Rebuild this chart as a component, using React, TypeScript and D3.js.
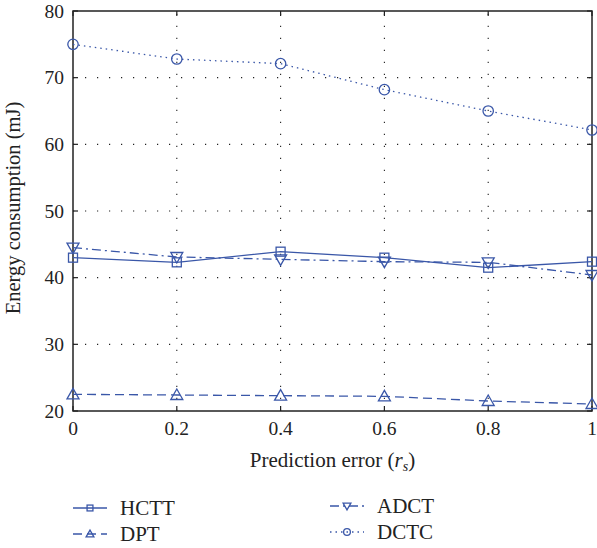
import React, { useEffect, useRef } from "react";
import * as d3 from "d3";

const xValues = [0, 0.2, 0.4, 0.6, 0.8, 1];
const hctt = [43.0, 42.3, 43.9, 43.0, 41.5, 42.4];
const dpt = [22.5, 22.4, 22.3, 22.2, 21.5, 21.05];
const adct = [44.5, 43.1, 42.75, 42.4, 42.3, 40.4];
const dctc = [75.0, 72.8, 72.1, 68.2, 65.0, 62.15];
const yTicks = [20, 30, 40, 50, 60, 70, 80];
const xTicks = [0, 0.2, 0.4, 0.6, 0.8, 1];

const BLUE = "#3a57a8";
const FONT = "'Liberation Serif', 'DejaVu Serif', serif";

const series = [
  { name: "HCTT", values: hctt, dash: null, marker: "square" },
  { name: "DPT", values: dpt, dash: "9,5", marker: "up" },
  { name: "ADCT", values: adct, dash: "9,4,2,4", marker: "down" },
  { name: "DCTC", values: dctc, dash: "1.5,4", marker: "circle" },
];

const drawMarker = (g, kind, cx, cy, s = 1) => {
  if (kind === "square") {
    g.append("rect").attr("x", cx - 4.5 * s).attr("y", cy - 4.5 * s)
      .attr("width", 9 * s).attr("height", 9 * s)
      .attr("fill", "none").attr("stroke", BLUE).attr("stroke-width", 1.3);
  } else if (kind === "circle") {
    g.append("circle").attr("cx", cx).attr("cy", cy).attr("r", 5.2 * s)
      .attr("fill", "none").attr("stroke", BLUE).attr("stroke-width", 1.3);
  } else {
    const h = 6 * s;
    const d = kind === "up"
      ? `M${cx},${cy - h}L${cx + h},${cy + h * 0.75}L${cx - h},${cy + h * 0.75}Z`
      : `M${cx},${cy + h}L${cx + h},${cy - h * 0.75}L${cx - h},${cy - h * 0.75}Z`;
    g.append("path").attr("d", d)
      .attr("fill", "none").attr("stroke", BLUE).attr("stroke-width", 1.3);
  }
};

const App = () => {
  const ref = useRef(null);

  useEffect(() => {
    const svg = d3.select(ref.current);
    svg.selectAll("*").remove();

    const margin = { left: 73, right: 5, top: 11, bottom: 137 };
    const width = 597, height = 548;
    const x = d3.scaleLinear().domain([0, 1]).range([margin.left, width - margin.right]);
    const y = d3.scaleLinear().domain([20, 80]).range([height - margin.bottom, margin.top]);

    const [x0, x1] = x.range();
    const [y0, y1] = y.range();

    // grid, sparse black dots
    const grid = svg.append("g").attr("stroke", "#222").attr("stroke-width", 1.1)
      .attr("stroke-dasharray", "1.2,10.8");
    yTicks.slice(1, -1).forEach(t => {
      grid.append("line").attr("x1", x0).attr("x2", x1).attr("y1", y(t)).attr("y2", y(t));
    });
    xTicks.slice(1, -1).forEach(t => {
      grid.append("line").attr("x1", x(t)).attr("x2", x(t)).attr("y1", y0).attr("y2", y1);
    });

    // ticks (inward, mirrored)
    const ticks = svg.append("g").attr("stroke", "#222").attr("stroke-width", 1.2);
    yTicks.forEach(t => {
      ticks.append("line").attr("x1", x0).attr("x2", x0 + 5).attr("y1", y(t)).attr("y2", y(t));
      ticks.append("line").attr("x1", x1).attr("x2", x1 - 5).attr("y1", y(t)).attr("y2", y(t));
    });
    xTicks.forEach(t => {
      ticks.append("line").attr("x1", x(t)).attr("x2", x(t)).attr("y1", y0).attr("y2", y0 - 5);
      ticks.append("line").attr("x1", x(t)).attr("x2", x(t)).attr("y1", y1).attr("y2", y1 + 5);
    });

    // frame
    svg.append("rect").attr("x", x0).attr("y", y1).attr("width", x1 - x0).attr("height", y0 - y1)
      .attr("fill", "none").attr("stroke", "#222").attr("stroke-width", 1.5);

    // tick labels
    const labels = svg.append("g").attr("font-family", FONT).attr("font-size", 19.5).attr("fill", "#222");
    yTicks.forEach(t => {
      labels.append("text").attr("x", x0 - 9).attr("y", y(t)).attr("dy", "0.35em")
        .attr("text-anchor", "end").text(t);
    });
    xTicks.forEach(t => {
      labels.append("text").attr("x", x(t)).attr("y", 435)
        .attr("text-anchor", "middle").text(d3.format("~g")(t));
    });

    // axis titles
    const xt = svg.append("text").attr("x", (x0 + x1) / 2).attr("y", 467)
      .attr("text-anchor", "middle").attr("font-family", FONT).attr("font-size", 21).attr("fill", "#222");
    xt.append("tspan").text("Prediction error (");
    xt.append("tspan").attr("font-style", "italic").text("r");
    xt.append("tspan").attr("font-style", "italic").attr("font-size", 14).attr("dy", 4).text("s");
    xt.append("tspan").attr("dy", -4).text(")");

    svg.append("text")
      .attr("transform", `translate(20,${(y0 + y1) / 2 - 3}) rotate(-90)`)
      .attr("text-anchor", "middle").attr("font-family", FONT).attr("font-size", 20.5).attr("fill", "#222")
      .text("Energy consumption (mJ)");

    // series
    const line = d3.line().x(d => x(d[0])).y(d => y(d[1]));
    series.forEach(s => {
      const pts = xValues.map((v, i) => [v, s.values[i]]);
      svg.append("path").attr("d", line(pts)).attr("fill", "none")
        .attr("stroke", BLUE).attr("stroke-width", 1.3)
        .attr("stroke-dasharray", s.dash);
      const g = svg.append("g");
      pts.forEach(p => drawMarker(g, s.marker, x(p[0]), y(p[1])));
    });

    // legend
    const legendPos = [
      { lx: 73, ly: 508 }, { lx: 73, ly: 534 },
      { lx: 330, ly: 506 }, { lx: 330, ly: 532 },
    ];
    series.forEach((s, i) => {
      const { lx, ly } = legendPos[i];
      const g = svg.append("g");
      g.append("line").attr("x1", lx).attr("x2", lx + 34).attr("y1", ly).attr("y2", ly)
        .attr("stroke", BLUE).attr("stroke-width", 1.3).attr("stroke-dasharray", s.dash);
      drawMarker(g, s.marker, lx + 17, ly, 0.65);
      g.append("text").attr("x", lx + 47).attr("y", ly).attr("dy", "0.35em")
        .attr("font-family", FONT).attr("font-size", 21).attr("fill", "#222").text(s.name);
    });
  }, []);

  return <svg ref={ref} width={597} height={548} style={{ position: "absolute", left: 0, top: 0 }} />;
};

export default App;
